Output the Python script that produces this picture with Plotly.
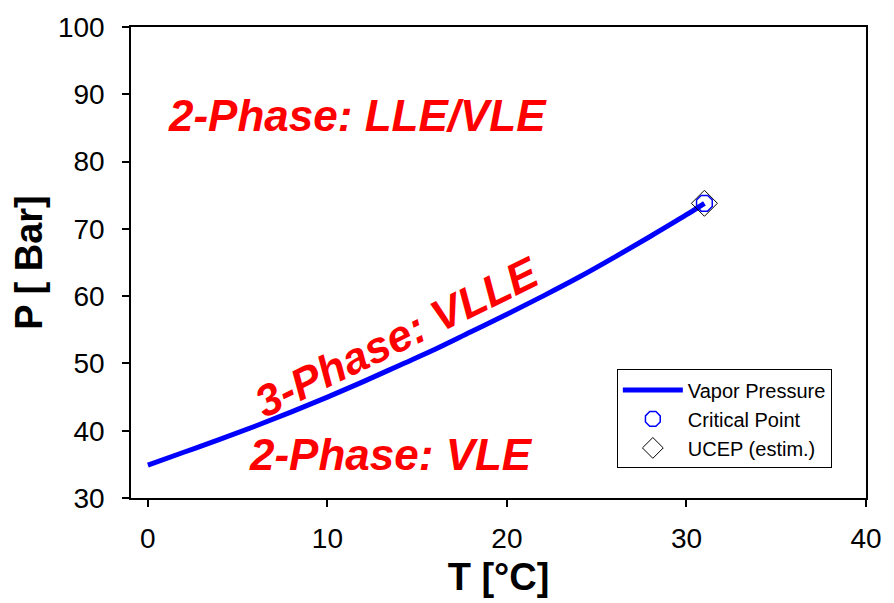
import plotly.graph_objects as go

# CO2 vapour-pressure curve
temp_c = [0, 2, 4, 6, 8, 10, 12, 14, 16, 18, 20, 22, 24, 26, 28, 30, 31]
press_bar = [34.9, 36.8, 38.7, 40.7, 42.8, 45.0, 47.3, 49.7, 52.1, 54.7, 57.3, 60.0, 62.8, 65.8, 68.9, 72.1, 73.8]

# Critical point and estimated upper critical end point
crit_t, crit_p = [31.0], [73.8]
ucep_t, ucep_p = [31.0], [73.8]

# Phase-region labels: (text, T, P, angle)
region_labels = [
    ("2-Phase: LLE/VLE", 1.0, 86.9, 0),
    ("3-Phase: VLLE", 13.9, 54.0, -26),
    ("2-Phase: VLE", 5.5, 36.4, 0),
]

FONT = "Liberation Sans, Arial"

fig = go.Figure()
fig.add_trace(go.Scatter(x=temp_c, y=press_bar, mode="lines", name="Vapor Pressure",
                         line=dict(color="#0000ff", width=5, shape="spline")))
fig.add_trace(go.Scatter(x=crit_t, y=crit_p, mode="markers", name="Critical Point",
                         marker=dict(symbol="octagon-open", size=17, color="#0000ff",
                                     line=dict(width=1.5))))
fig.add_trace(go.Scatter(x=ucep_t, y=ucep_p, mode="markers", name="UCEP (estim.)",
                         marker=dict(symbol="diamond-open", size=20, color="black",
                                     line=dict(width=1))))

for text, tx, ty, ang in region_labels:
    fig.add_annotation(x=tx, y=ty, text="<b><i>" + text + "</i></b>", showarrow=False,
                       xanchor="left" if ang == 0 else "center", yanchor="middle",
                       textangle=ang,
                       font=dict(family=FONT, size=44, color="#ff0000"))

axis_common = dict(showline=True, linecolor="black", linewidth=1.5, mirror=True,
                   ticks="outside", ticklen=7, tickcolor="black", tickwidth=1.5,
                   showgrid=False, zeroline=False,
                   tickfont=dict(family=FONT, size=28, color="black"))

fig.update_layout(
    width=894, height=603,
    margin=dict(l=131, r=23, t=25, b=105),
    paper_bgcolor="white", plot_bgcolor="white",
    xaxis=dict(range=[-0.94, 40], tickvals=[0, 10, 20, 30, 40],
               ticklabelstandoff=8,
               title=dict(text="<b>T [°C]</b>", standoff=10,
                          font=dict(family=FONT, size=38, color="black")),
               **axis_common),
    yaxis=dict(range=[30, 100], tickvals=[30, 40, 50, 60, 70, 80, 90, 100],
               ticklabelstandoff=12,
               title=dict(text="<b>P [ Bar]</b>", standoff=4,
                          font=dict(family=FONT, size=38, color="black")),
               **axis_common),
    legend=dict(x=0.661, y=0.273, xanchor="left", yanchor="top",
                bordercolor="black", borderwidth=1, bgcolor="white",
                font=dict(family=FONT, size=20, color="black"),
                itemwidth=60, tracegroupgap=0),
    showlegend=True,
)

fig.write_html("out.html")
